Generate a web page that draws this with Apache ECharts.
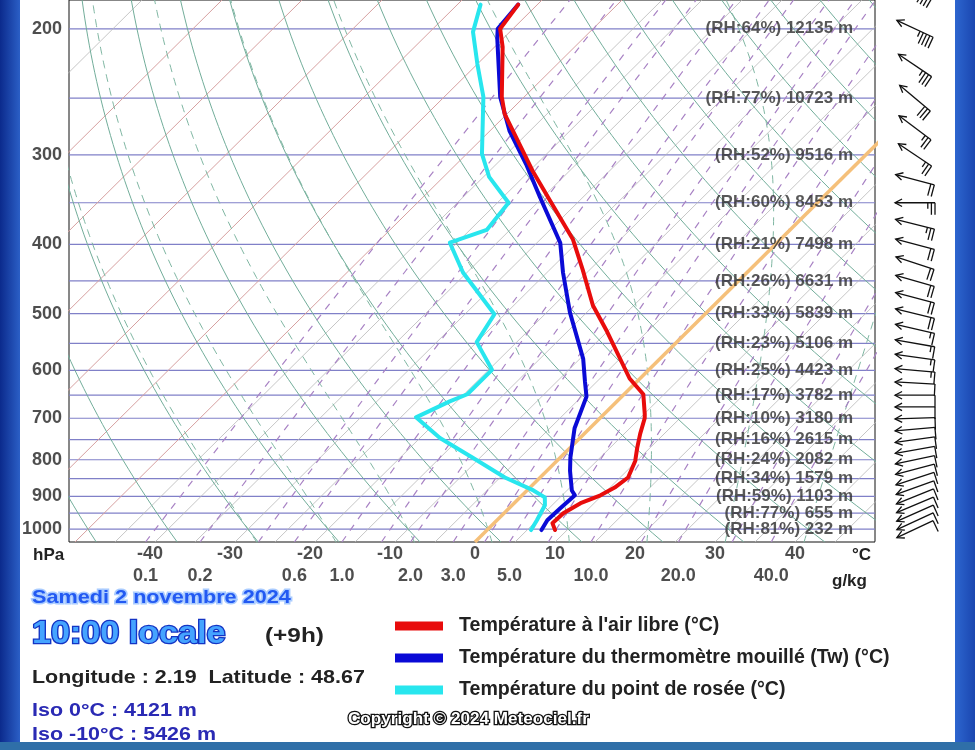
<!DOCTYPE html>
<html><head><meta charset="utf-8">
<script src="https://cdn.jsdelivr.net/npm/echarts@6/dist/echarts.min.js"></script>
<style>html,body{margin:0;padding:0;background:#fff;}#c{width:975px;height:750px;}</style>
</head><body><div id="c"></div>
<script>
// ---------------- data ----------------
const tempP = [185,200,212,249,263,290,316,347,394,434,487,530,616,648,691,700,736,770,803,847,875,897,920,950,981,1003];
const tempT = [-62.4,-61.6,-59.0,-52.8,-50.3,-44.6,-39.6,-33.8,-25.9,-20.9,-15.1,-10.0,-1.3,2.4,5.1,5.6,7.0,8.4,9.8,11.0,10.6,9.8,8.3,7.4,7.3,8.5];
const dewP  = [185,202,224,249,299,322,350,382,398,438,501,548,599,648,663,698,746,795,847,883,903,926,972,1003];
const dewT  = [-67.1,-64.6,-60.0,-55.1,-48.1,-44.3,-38.6,-37.9,-40.9,-35.5,-26.3,-25.0,-19.6,-19.6,-20.9,-23.1,-17.5,-10.9,-4.4,0.8,3.1,4.1,5.0,5.5];
const wetP  = [185,200,206,249,278,309,343,398,438,498,578,622,653,723,795,829,883,897,935,972,1003];
const wetT  = [-62.4,-61.9,-60.8,-53.0,-47.5,-41.3,-35.5,-27.1,-23.0,-17.1,-9.6,-6.5,-4.4,-1.9,1.3,2.9,5.6,6.6,6.4,6.3,6.8];

const levelP  = [200,250,300,350,400,450,500,550,600,650,700,750,800,850,900,950,1000];
const levelRH = [64,77,52,60,21,26,33,23,25,17,10,16,24,34,59,77,81];
const levelZ  = [12135,10723,9516,8453,7498,6631,5839,5106,4423,3782,3180,2615,2082,1579,1103,655,232];

const windP   = [175,200,225,250,275,300,325,350,375,400,425,450,475,500,525,550,575,600,625,650,675,700,725,750,775,800,825,850,875,900,925,950,975,1000];
const windDir = [120,115,124,130,127,124,105,90,104,105,108,106,105,104,103,100,98,95,93,90,90,88,85,82,80,78,75,72,70,68,67,66,65,65];
const windSpd = [40,45,35,30,25,25,20,25,25,20,20,20,20,20,15,15,15,15,10,10,10,10,10,10,10,10,10,10,10,10,10,10,10,10];

const pressureTicks = [200,300,400,500,600,700,800,900,1000];
const isobarLevels  = [200,250,300,350,400,450,500,550,600,650,700,750,800,850,900,950,1000];
const tempTicks     = [-40,-30,-20,-10,0,10,20,30,40];
const mixLabels     = ['0.1','0.2','0.6','1.0','2.0','3.0','5.0','10.0','20.0','40.0'];
const mixLines      = [0.1,0.2,0.4,0.6,1,1.5,2,3,4,5,7,10,15,20,30,40];
const dryThetas     = [-60,-50,-40,-30,-20,-10,0,10,20,30,40,50,60,70,80,90,100,110,120,130,140,150];
const moistThetas   = [-30,-20,-10,0,10,20,30,40];

// ---------------- skew-T geometry ----------------
const XMIN = -50.75, XMAX = 50, PBOT = 1042.3, PTOP = 182.3;
const G = {left:69, top:-5, width:806, height:547};
const K = (G.height/Math.log(PBOT/PTOP)) / (G.width/(XMAX-XMIN));
const skew = (T,p) => T + K*Math.log(PBOT/p);
const FONT = '"Liberation Sans", Arial, sans-serif';

const esat = Tc => 6.112*Math.exp(17.67*Tc/(Tc+243.5));
function tdMix(w,p){ const e=p*w/(622+w); const l=Math.log(e/6.112); return 243.5*l/(17.67-l); }
function logSpace(a,b,n){ const r=[]; for(let i=0;i<=n;i++) r.push(Math.exp(Math.log(a)+(Math.log(b)-Math.log(a))*i/n)); return r; }

function moistAdiabat(thw){
  const f=(T,p)=>{const es=esat(T-273.15);const rs=0.622*es/(p-es);return (287.04*T+2.501e6*rs)/(1005.7+2.501e6*2.501e6*rs*0.622/(287.04*T*T));};
  const integ=(h,lim,cmp)=>{let T=thw+273.15,lp=Math.log(1000);const out=[];let k=0;
    while(cmp(Math.exp(lp),lim)){const p=Math.exp(lp);const k1=f(T,p);const k2=f(T+h*k1,Math.exp(lp+h));T+=h*(k1+k2)/2;lp+=h;k++;if(k%3===0||!cmp(Math.exp(lp),lim))out.push([T-273.15,Math.exp(lp)]);}
    return out;};
  const up=integ(-0.005,PTOP,(p,l)=>p>l);
  const down=integ(0.005,PBOT,(p,l)=>p<l);
  return down.reverse().concat([[thw,1000]]).concat(up);
}

const series = [];
function bgLine(data,color,width,type,z){
  series.push({type:'line',data,symbol:'none',silent:true,clip:true,animation:false,z:z||1,
    lineStyle:{color,width,type:type||'solid'},emphasis:{disabled:true},xAxisIndex:0,yAxisIndex:0});
}
// isobars
isobarLevels.forEach(p=>bgLine([[XMIN,p],[XMAX,p]],'#8080c8',1.2));
// isotherms
for(let T=-130;T<=50;T+=5){
  if(T===0) continue;
  const d=[[skew(T,PBOT),PBOT],[skew(T,PTOP),PTOP]];
  if(T<=-50 && T>=-100){ if(T%10===0) bgLine(d,'#d6a0a0',1); }
  else if(T>-50){ bgLine(d,'#b8b8b8',0.8); }
  else if(T%10===0){ bgLine(d,'#b8b8b8',0.8); }
}
// dry adiabats
dryThetas.forEach(th=>{
  bgLine(logSpace(PBOT,PTOP,60).map(p=>{const T=(th+273.15)*Math.pow(p/1000,0.2857)-273.15;return [skew(T,p),p];}),'#72ad9a',1);
});
// moist adiabats
moistThetas.forEach(th=>{
  bgLine(moistAdiabat(th).map(([T,p])=>[skew(T,p),p]),'#7fb6a2',1,[8,6]);
});
// mixing ratio lines
mixLines.forEach(w=>{
  bgLine(logSpace(PBOT,PTOP,30).map(p=>[skew(tdMix(w,p),p),p]),'#a882c4',1.2,[7,7]);
});
// 0°C isotherm
bgLine([[skew(0,PBOT),PBOT],[skew(0,PTOP),PTOP]],'#f5c07a',3.5,'solid',3);

// profiles
const NT="Température à l'air libre (°C)", NW='Température du thermomètre mouillé (Tw) (°C)', ND='Température du point de rosée (°C)';
function profile(name,P,T,color){
  series.push({name,type:'line',data:P.map((p,i)=>[skew(T[i],p),p]),symbol:'none',clip:true,animation:false,z:6,
    color,itemStyle:{color},lineStyle:{color,width:4,cap:'round',join:'round'},emphasis:{disabled:true}});
}
profile(ND,dewP,dewT,'#28e6ee');
profile(NW,wetP,wetT,'#0a0ad6');
profile(NT,tempP,tempT,'#e80c0c');

// axis labels
const lblStyle = {fontFamily:FONT,fontWeight:'bold',fontSize:18,color:'#222'};
series.push({type:'scatter',silent:true,clip:false,symbolSize:0,z:8,animation:false,
  data:pressureTicks.map(p=>[XMIN,p]),
  label:Object.assign({show:true,position:'left',distance:7,formatter:q=>q.value[1]},lblStyle)});
series.push({type:'scatter',silent:true,clip:false,symbolSize:0,z:8,animation:false,
  data:tempTicks.map(T=>({value:[skew(T,PBOT),PBOT],label:{offset:[T<0?-5:0,0]}})),
  label:Object.assign({show:true,position:'bottom',distance:3,formatter:q=>q.value[0].toFixed(0)},lblStyle)});
series.push({type:'scatter',silent:true,clip:false,symbolSize:0,z:8,animation:false,
  data:mixLabels.map(s=>({name:s,value:[skew(tdMix(parseFloat(s),PBOT),PBOT),PBOT]})),
  label:Object.assign({show:true,position:'bottom',distance:25,formatter:q=>q.name},lblStyle)});
// RH / height labels
const XRH = XMIN + (853-G.left)/(G.width/(XMAX-XMIN));
series.push({type:'scatter',silent:true,clip:false,symbolSize:0,z:8,animation:false,
  data:levelP.map((p,i)=>({value:[XRH,p],name:'(RH:'+levelRH[i]+'%) '+levelZ[i]+' m'})),
  label:{show:true,position:'left',distance:0,formatter:q=>q.name,fontFamily:FONT,fontWeight:'bold',fontSize:17,color:'#2e2e2e'}});

// wind barbs
function renderBarb(params, api){
  const p=api.value(0), dir=api.value(1), spd=api.value(2);
  const cs=params.coordSys;
  const cx=cs.x+cs.width/2, cy=api.coord([0,p])[1];
  const to=(dir+180)*Math.PI/180, hx=Math.sin(to), hy=-Math.cos(to);
  const L=40;
  const head=[cx+hx*L/2,cy+hy*L/2], tail=[cx-hx*L/2,cy-hy*L/2];
  const px=hy, py=-hx;
  const st={stroke:'#111',lineWidth:1.3,fill:null};
  const ch=[{type:'polyline',shape:{points:[tail,head]},style:st}];
  const bx=-hx,by=-hy,a=28*Math.PI/180,al=8;
  const r1=[bx*Math.cos(a)-by*Math.sin(a),bx*Math.sin(a)+by*Math.cos(a)];
  const r2=[bx*Math.cos(-a)-by*Math.sin(-a),bx*Math.sin(-a)+by*Math.cos(-a)];
  ch.push({type:'polyline',shape:{points:[[head[0]+r1[0]*al,head[1]+r1[1]*al],head,[head[0]+r2[0]*al,head[1]+r2[1]*al]]},style:st});
  const full=Math.floor(spd/10), half=(spd%10)>=5?1:0;
  let k=0;
  for(let i=0;i<full;i++,k++){const s=[tail[0]+hx*k*3.6,tail[1]+hy*k*3.6];ch.push({type:'line',shape:{x1:s[0],y1:s[1],x2:s[0]+px*12,y2:s[1]+py*12},style:st});}
  if(half){const s=[tail[0]+hx*k*3.6,tail[1]+hy*k*3.6];ch.push({type:'line',shape:{x1:s[0],y1:s[1],x2:s[0]+px*6,y2:s[1]+py*6},style:st});}
  return {type:'group',children:ch};
}
series.push({type:'custom',xAxisIndex:1,yAxisIndex:1,silent:true,animation:false,z:7,clip:false,
  encode:{x:2,y:0},renderItem:renderBarb,
  data:windP.map((p,i)=>[p,windDir[i],windSpd[i]])});

const txt=(x,y,text,font,fill,sx,extra)=>Object.assign({type:'text',x,y,scaleX:sx||1,silent:true,z:20,
  style:Object.assign({text,font,fill,textAlign:'left',textVerticalAlign:'middle'},extra||{})});

const option = {
  animation:false,
  backgroundColor:'#ffffff',
  grid:[
    {left:G.left,top:G.top,width:G.width,height:G.height,show:true,borderColor:'#111',borderWidth:1,backgroundColor:'#fff'},
    {left:876,top:G.top,width:78,height:G.height,show:false}
  ],
  xAxis:[
    {gridIndex:0,type:'value',min:XMIN,max:XMAX,axisLine:{show:false},axisTick:{show:false},axisLabel:{show:false},splitLine:{show:false}},
    {gridIndex:1,type:'value',min:0,max:100,show:false}
  ],
  yAxis:[
    {gridIndex:0,type:'log',min:PTOP,max:PBOT,inverse:true,axisLine:{show:false},axisTick:{show:false},axisLabel:{show:false},splitLine:{show:false}},
    {gridIndex:1,type:'log',min:PTOP,max:PBOT,inverse:true,show:false}
  ],
  legend:{data:[NT,NW,ND],orient:'vertical',left:395,top:616,padding:0,itemWidth:48,itemHeight:9,itemGap:12,icon:'rect',selectedMode:false,
    textStyle:{fontFamily:FONT,fontWeight:'bold',fontSize:19.6,color:'#222',lineHeight:20,padding:[0,0,0,11]}},
  series,
  graphic:[
    {type:'rect',shape:{x:0,y:0,width:20,height:750},silent:true,z:30,
      style:{fill:new echarts.graphic.LinearGradient(0,0,1,0,[{offset:0,color:'#0b2a8c'},{offset:1,color:'#2b5fc6'}])}},
    {type:'rect',shape:{x:955,y:0,width:20,height:750},silent:true,z:30,
      style:{fill:new echarts.graphic.LinearGradient(0,0,1,0,[{offset:0,color:'#2d66cf'},{offset:1,color:'#1a46b0'}])}},
    {type:'rect',shape:{x:0,y:742,width:975,height:8},silent:true,z:30,style:{fill:'#2f6fa8'}},
    txt(33,555,'hPa','bold 17px '+FONT,'#222'),
    txt(852,555,'°C','bold 17px '+FONT,'#222'),
    txt(832,581,'g/kg','bold 17px '+FONT,'#222'),
    txt(32,598,'Samedi 2 novembre 2024','bold 19px '+FONT,'#2259f2',1.14,{stroke:'#a9cbff',lineWidth:3,strokeFirst:true}),
    txt(32,634,'10:00 locale','bold 31px '+FONT,'#45a4ff',1.1,{stroke:'#1434c4',lineWidth:2.5,strokeFirst:true}),
    txt(265,636,'(+9h)','bold 21px '+FONT,'#222',1.16),
    txt(32,678,'Longitude : 2.19  Latitude : 48.67','bold 19px '+FONT,'#222',1.13),
    txt(32,711,'Iso 0°C : 4121 m','bold 19px '+FONT,'#2a2ab4',1.13),
    txt(32,735,'Iso -10°C : 5426 m','bold 19px '+FONT,'#2a2ab4',1.13),
    txt(348,720,'Copyright © 2024 Meteociel.fr','bold 16px '+FONT,'#fff',1.07,{stroke:'#111',lineWidth:2.5,strokeFirst:true})
  ]
};
const chart = echarts.init(document.getElementById('c'),null,{renderer:'canvas'});
chart.setOption(option);
</script></body></html>
